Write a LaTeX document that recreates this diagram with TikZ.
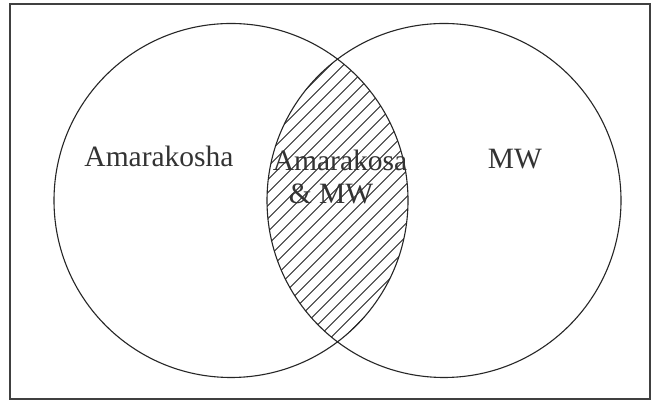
\documentclass[tikz,border=0pt]{standalone}
\usepackage{fontspec}
\setmainfont{Liberation Serif}
\begin{document}
\begin{tikzpicture}[x=1pt,y=1pt,
  setc/.style={draw=black!85, line width=1.1pt},
  lbl/.style={font=\fontsize{29.5}{33}\selectfont, text=black!80, inner sep=0pt, anchor=base},
  hatchline/.style={draw=black!85, line width=0.8pt}]
\useasboundingbox (0,0) rectangle (652,403);
\fill[white] (0,0) rectangle (652,403);
\draw[draw=black!75, line width=1.3pt] (10,4) rectangle (650,399);
% hatching of the intersection
\begin{scope}
  \clip (231,202.5) circle (177pt);
  \clip (444,202.5) circle (177pt);
  \foreach \i in {-30,...,30} {
    \draw[hatchline] ({338+\i*13-200},2.5) -- ++(400,400);
  }
\end{scope}
\node[setc, circle, inner sep=0pt, minimum size=354pt] (L) at (231,202.5) {};
\node[setc, circle, inner sep=0pt, minimum size=354pt] (R) at (444,202.5) {};
\node[lbl] (tA) at (159,236) {Amarakosha};
\node[lbl] (tB) at (515,234) {MW};
\node[lbl] (tC1) at (340,232) {Amarakosa};
\node[lbl] (tC2) at (331,199) {\& MW};
\end{tikzpicture}
\end{document}
